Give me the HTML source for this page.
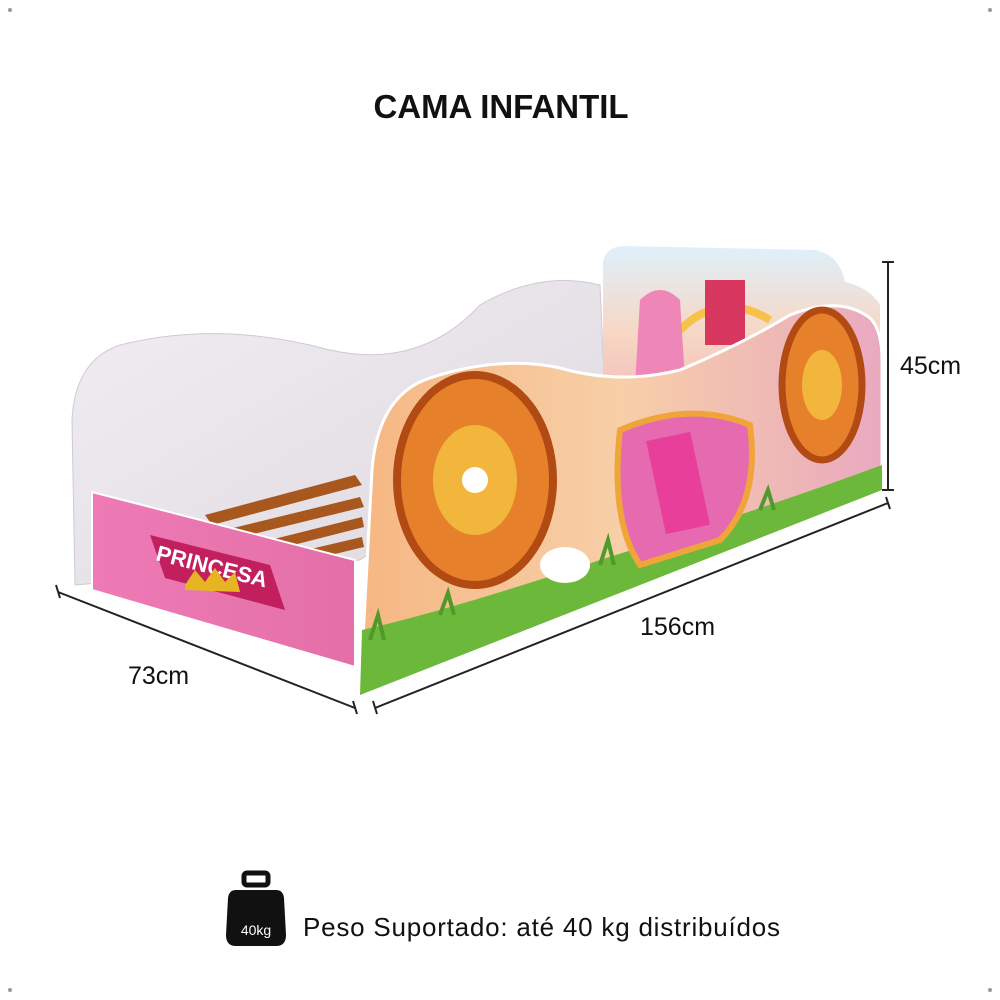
<!DOCTYPE html>
<html><head><meta charset="utf-8"><style>
html,body{margin:0;padding:0;background:#fff;}
svg{display:block;}
</style></head><body>
<svg width="1000" height="1000" viewBox="0 0 1000 1000" xmlns="http://www.w3.org/2000/svg">
<defs>
<linearGradient id="back" x1="0" y1="0" x2="1" y2="1"><stop offset="0" stop-color="#f1eef3"/><stop offset="1" stop-color="#ddd8df"/></linearGradient>
<linearGradient id="front" x1="0" y1="0" x2="1" y2="0"><stop offset="0" stop-color="#f6b783"/><stop offset="0.5" stop-color="#f7cfa8"/><stop offset="1" stop-color="#e9a9c0"/></linearGradient>
<linearGradient id="head" x1="0" y1="0" x2="0" y2="1"><stop offset="0" stop-color="#dff0fb"/><stop offset="0.5" stop-color="#f7d7c4"/><stop offset="1" stop-color="#f0b7b7"/></linearGradient>
<linearGradient id="foot" x1="0" y1="0" x2="1" y2="0"><stop offset="0" stop-color="#ee7bb6"/><stop offset="1" stop-color="#e46fa8"/></linearGradient>
</defs>
<circle cx="10" cy="10" r="2" fill="#999"/><circle cx="990" cy="10" r="2" fill="#999"/>
<circle cx="10" cy="990" r="2" fill="#999"/><circle cx="990" cy="990" r="2" fill="#999"/>
<text x="501" y="118" text-anchor="middle" font-family="Liberation Sans, sans-serif" font-weight="bold" font-size="33" fill="#111" textLength="255">CAMA INFANTIL</text>

<path d="M75,585 L72,420 Q75,360 120,345 Q220,320 330,350 Q420,370 480,305 Q540,270 600,285 L605,400 L360,560 Z" fill="url(#back)" stroke="#cfcad2" stroke-width="1"/>
<path d="M603,390 L603,262 Q606,246 625,246 L815,250 Q840,255 845,282 Q870,288 880,305 L880,420 Z" fill="url(#head)"/>
<path d="M680,330 Q720,290 770,320" fill="none" stroke="#f6c24a" stroke-width="8"/>
<rect x="705" y="280" width="40" height="65" fill="#d8375f"/>
<path d="M640,300 q20,-20 40,0 l5,80 l-50,5 z" fill="#ef86b8"/>
<g fill="#a8581f">
<polygon points="205,515 355,475 362,485 212,525"/>
<polygon points="225,530 360,497 364,507 229,540"/>
<polygon points="250,545 362,517 364,527 254,555"/>
<polygon points="285,555 362,537 364,547 289,565"/>
</g>
<polygon points="92,492 355,560 355,667 92,590" fill="url(#foot)" stroke="#fff" stroke-width="2"/>
<path d="M150,535 L270,565 L285,610 L165,578 Z" fill="#c21f5e"/>
<text x="155" y="560" font-family="Liberation Sans, sans-serif" font-weight="bold" font-size="22" fill="#fff" transform="rotate(14 155 560)">PRINCESA</text>
<path d="M185,585 l10,-15 l10,12 l10,-14 l10,14 l10,-10 l5,20 l-55,-2 z" fill="#e7b524"/>
<path d="M360,695 L372,470 Q378,395 430,378 Q500,355 560,368 Q620,385 680,370 Q740,345 790,315 Q840,295 870,318 Q882,330 882,360 L882,490 Z" fill="url(#front)" stroke="#fff" stroke-width="3"/>
<path d="M360,695 L362,630 Q450,610 600,560 Q760,510 882,465 L882,490 Z" fill="#6cb83a"/>
<path d="M370,640 l8,-25 l6,25 M440,615 l8,-22 l6,22 M600,565 l8,-25 l6,25 M760,510 l8,-20 l6,20" stroke="#4f9a2a" stroke-width="4" fill="none"/>
<ellipse cx="475" cy="480" rx="78" ry="105" fill="#e6802a" stroke="#b24a14" stroke-width="8"/>
<ellipse cx="475" cy="480" rx="42" ry="55" fill="#f3b63c"/>
<circle cx="475" cy="480" r="13" fill="#fff"/>
<ellipse cx="822" cy="385" rx="40" ry="75" fill="#e6802a" stroke="#b24a14" stroke-width="7"/>
<ellipse cx="822" cy="385" rx="20" ry="35" fill="#f3b63c"/>
<path d="M620,430 Q690,400 750,425 Q760,500 720,540 L640,565 Q610,520 620,430 Z" fill="#e66ab0" stroke="#f0a53a" stroke-width="6"/>
<rect x="655" y="435" width="45" height="95" fill="#e73f9a" transform="rotate(-12 680 480)"/>
<ellipse cx="565" cy="565" rx="25" ry="18" fill="#fff"/>

<g stroke="#222" stroke-width="2" fill="none">
<line x1="58" y1="592" x2="355" y2="708"/>
<line x1="375" y1="708" x2="888" y2="503"/>
<line x1="888" y1="262" x2="888" y2="490"/>
<line x1="56" y1="585" x2="60" y2="598"/><line x1="353" y1="701" x2="357" y2="714"/>
<line x1="373" y1="701" x2="377" y2="714"/><line x1="886" y1="497" x2="890" y2="509"/>
<line x1="882" y1="262" x2="894" y2="262"/><line x1="882" y1="490" x2="894" y2="490"/>
</g>
<g font-family="Liberation Sans, sans-serif" font-size="25" fill="#111">
<text x="128" y="684">73cm</text>
<text x="640" y="635">156cm</text>
<text x="900" y="374">45cm</text>
</g>

<rect x="244" y="873" width="24" height="12" rx="3" fill="none" stroke="#111" stroke-width="5"/>
<path d="M236,890 L276,890 Q283,890 284,898 L286,935 Q286,946 276,946 L236,946 Q226,946 226,935 L228,898 Q229,890 236,890 Z" fill="#111"/>
<text x="256" y="935" text-anchor="middle" font-family="Liberation Sans, sans-serif" font-size="14" fill="#fff">40kg</text>
<text x="303" y="936" font-family="Liberation Sans, sans-serif" font-size="26" fill="#111" textLength="477">Peso Suportado: até 40 kg distribuídos</text>
</svg>
</body></html>
